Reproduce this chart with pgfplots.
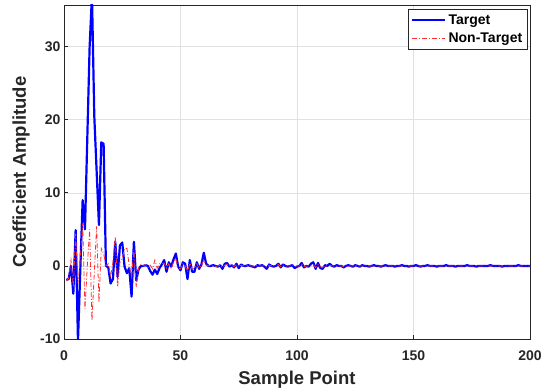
\documentclass[border=0pt]{standalone}
\usepackage{pgfplots}
\pgfplotsset{compat=1.18}
\usepackage{pgfplotstable}
\usepackage{fontspec}
\setmainfont{Liberation Sans}

\pgfplotstableread{
x y
1 -1.9
2 -1.8
3 0.0
4 -3.8
5 4.9
6 -10.3
7 -0.5
8 9.0
9 5.0
10 17.5
11 30.0
12 37.0
13 20.5
14 13.0
15 5.6
16 16.9
17 16.7
18 0.0
19 -0.2
20 -2.4
21 -1.8
22 3.3
23 -1.5
24 2.8
25 3.2
26 -0.1
27 -1.0
28 -0.3
29 -4.2
30 3.3
31 -2.0
32 -0.5
33 0.0
34 0.0
35 0.1
36 0.0
37 -0.7
38 -1.2
39 -0.5
40 -1.1
41 -0.3
42 0.2
43 0.8
44 -0.8
45 0.5
46 -0.1
47 0.9
48 1.7
49 -0.1
50 -0.6
51 0.5
52 0.3
53 -1.8
54 0.8
55 -0.8
56 -0.8
57 0.5
58 -0.4
59 0.2
60 1.8
61 0.3
62 0.0
63 0.0
64 0.1
65 0.0
66 -0.1
67 0.1
68 -0.4
69 0.3
70 0.4
71 -0.1
72 0.1
73 -0.2
74 0.3
75 -0.3
76 0.2
77 0.0
78 0.0
79 0.1
80 0.0
81 -0.1
82 -0.2
83 0.1
84 0.0
85 0.1
86 -0.1
87 -0.4
88 0.2
89 0.0
90 -0.1
91 0.0
92 0.3
93 -0.2
94 0.2
95 0.0
96 -0.1
97 0.0
98 0.1
99 -0.3
100 -0.1
101 0.0
102 0.4
103 -0.2
104 0.0
105 -0.1
106 0.3
107 0.5
108 -0.4
109 0.4
110 -0.3
111 -0.4
112 0.1
113 0.0
114 0.3
115 0.0
116 -0.1
117 0.1
118 0.0
119 0.0
120 -0.2
121 0.0
122 0.1
123 0.0
124 -0.1
125 0.1
126 0.0
127 -0.1
128 0.1
129 0.0
130 0.0
131 -0.1
132 0.0
133 0.1
134 0.0
135 0.0
136 -0.1
137 0.0
138 0.1
139 0.0
140 0.0
141 0.0
142 -0.1
143 0.0
144 0.0
145 0.1
146 0.0
147 0.0
148 -0.1
149 0.0
150 0.0
151 0.1
152 0.0
153 -0.1
154 0.0
155 0.0
156 0.1
157 0.0
158 0.0
159 0.0
160 -0.1
161 0.0
162 0.0
163 0.0
164 0.1
165 0.0
166 0.0
167 0.0
168 -0.1
169 0.0
170 0.0
171 0.0
172 0.0
173 0.1
174 0.0
175 0.0
176 0.0
177 -0.1
178 0.0
179 0.0
180 0.0
181 0.0
182 0.0
183 0.1
184 0.0
185 0.0
186 0.0
187 0.0
188 -0.1
189 0.0
190 0.0
191 0.0
192 0.0
193 0.0
194 0.0
195 0.1
196 0.0
197 0.0
198 0.0
199 0.0
200 0.0
}\target

\pgfplotstableread{
x y
1 -2.0
2 -1.7
3 0.8
4 -2.9
5 4.4
6 -2.4
7 1.0
8 5.8
9 -5.9
10 0.0
11 5.0
12 -7.5
13 -1.0
14 5.4
15 -5.0
16 2.4
17 1.7
18 0.0
19 0.3
20 -1.5
21 0.5
22 4.0
23 -2.9
24 0.5
25 1.0
26 2.4
27 2.4
28 0.0
29 -1.5
30 2.2
31 -2.9
32 -0.3
33 0.2
34 0.0
35 0.2
36 -0.2
37 0.1
38 -0.4
39 0.8
40 -0.3
41 0.3
42 0.3
43 0.4
44 -0.3
45 0.3
46 -0.4
47 0.5
48 1.0
49 -0.3
50 -0.4
51 0.3
52 0.0
53 -0.8
54 0.4
55 -0.5
56 -0.3
57 0.3
58 -0.3
59 0.1
60 0.8
61 0.1
62 0.0
63 0.1
64 0.0
65 -0.1
66 0.0
67 0.1
68 -0.2
69 0.1
70 0.2
71 0.0
72 0.1
73 -0.1
74 0.2
75 -0.1
76 0.1
77 0.0
78 0.0
79 0.1
80 0.0
81 0.0
82 -0.1
83 0.1
84 0.0
85 0.0
86 0.0
87 -0.2
88 0.1
89 0.0
90 0.0
91 0.0
92 0.2
93 -0.1
94 0.1
95 0.0
96 0.0
97 0.0
98 0.1
99 -0.1
100 0.0
101 0.0
102 0.2
103 -0.1
104 0.0
105 0.0
106 0.1
107 0.2
108 -0.2
109 0.2
110 -0.1
111 -0.2
112 0.0
113 0.0
114 0.1
115 0.0
116 0.0
117 0.0
118 0.0
119 0.0
120 -0.1
121 0.0
122 0.0
123 0.0
124 0.0
125 0.1
126 0.0
127 0.0
128 0.0
129 0.0
130 0.0
140 0.0
150 0.0
160 0.0
170 0.0
180 0.0
190 0.0
200 0.0
}\nontarget

\begin{document}
\begin{tikzpicture}
\definecolor{gridgray}{RGB}{225,225,225}
\definecolor{axgray}{RGB}{38,38,38}
\definecolor{tred}{RGB}{255,45,45}
\path[use as bounding box] (-64bp,-52bp) rectangle (481bp,339bp);
\begin{axis}[
  scale only axis,
  width=466bp, height=334bp,
  xmin=0, xmax=200, ymin=-10, ymax=35.7,
  xtick={0,50,100,150,200},
  ytick={-10,0,10,20,30},
  grid=major,
  major grid style={gridgray, line width=0.6bp},
  axis line style={axgray, line width=0.7bp},
  tick style={axgray, line width=0.7bp},
  tick align=inside,
  major tick length=4bp,
  xtick pos=left, ytick pos=left,
  /pgf/number format/assume math mode=true,
  ticklabel style={font=\fontsize{14bp}{16bp}\selectfont\bfseries, text=axgray},
  xticklabel style={yshift=-8bp},
  xlabel={Sample Point},
  ylabel={Coefficient Amplitude},
  label style={font=\fontsize{18.5bp}{20bp}\selectfont\bfseries, text=axgray},
  xlabel style={at={(axis description cs:0.5,0)}, anchor=base, yshift=-45.7bp},
  ylabel style={at={(axis description cs:-0.0923,0.5)}, anchor=center},
  legend style={at={(1,1)}, anchor=north east, xshift=-2bp, yshift=-4bp,
    draw=axgray, line width=0.6bp, inner sep=3bp,
    nodes={inner sep=2.5bp},
    font=\fontsize{14bp}{16bp}\selectfont\bfseries, row sep=2bp},
  legend cell align=left,
  clip=true,
]
\addplot[color=blue, line width=2.2bp, line join=round,
  legend image code/.code={\draw[blue, line width=2.2bp] (0bp,0bp) -- (33bp,0bp);}]
  table[x=x,y=y] {\target};
\addlegendentry{Target}
\addplot[color=tred, line width=0.8bp, dash pattern=on 5bp off 2bp on 1bp off 2bp,
  legend image code/.code={\draw[tred, line width=0.8bp, dash pattern=on 5bp off 2bp on 1bp off 2bp] (0bp,0bp) -- (33bp,0bp);}]
  table[x=x,y=y] {\nontarget};
\addlegendentry{Non-Target}
\end{axis}
\end{tikzpicture}
\end{document}
